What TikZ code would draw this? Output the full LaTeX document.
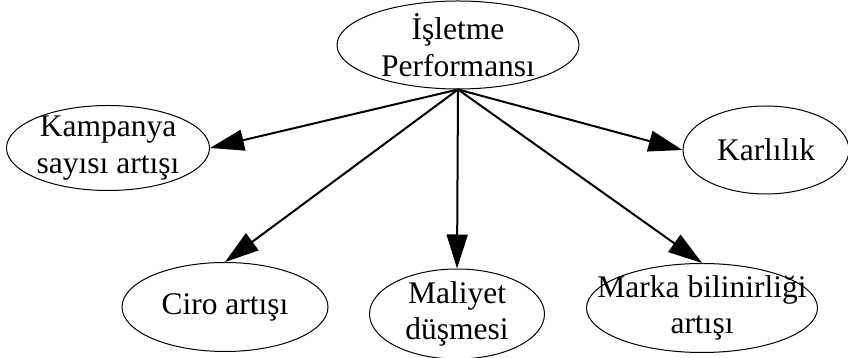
\documentclass[tikz,border=0pt]{standalone}
\usepackage{fontspec}
\setmainfont{Liberation Serif}
\usetikzlibrary{shapes.geometric,arrows.meta}

\begin{document}
\begin{tikzpicture}[x=1pt, y=1pt,
  every node/.style={font=\fontsize{31.5}{36.5}\selectfont},
  oval/.style={ellipse, draw, line width=1pt, inner sep=0pt},
  link/.style={-{Triangle[length=34pt,width=21pt]}, line width=2pt}]
  \useasboundingbox (0,0) rectangle (848,358);
  \node[oval, minimum width=242, minimum height=88,
        label={[align=center]center:İşletme\\Performansı}] (perf) at (458,313) {};
  \node[oval, minimum width=203, minimum height=85,
        label={[align=center]center:Kampanya\\sayısı artışı}] (kamp) at (108,210) {};
  \node[oval, minimum width=166, minimum height=88,
        label={center:Karlılık}] (karl) at (766,208) {};
  \node[oval, minimum width=206, minimum height=89,
        label={center:Ciro artışı}] (ciro) at (225,51) {};
  \node[oval, minimum width=175, minimum height=90,
        label={[align=center]center:Maliyet\\düşmesi}] (mal) at (457,44) {};
  \node[oval, minimum width=231, minimum height=89,
        label={[align=center]center:Marka bilinirliği\\artışı}] (marka) at (702,50) {};
  \draw[link] (perf.south) -- (kamp.east);
  \draw[link] (perf.south) -- (karl.west);
  \draw[link] (perf.south) -- (ciro.north);
  \draw[link] (perf.south) -- (mal.north);
  \draw[link] (perf.south) -- (marka.north);
\end{tikzpicture}
\end{document}
